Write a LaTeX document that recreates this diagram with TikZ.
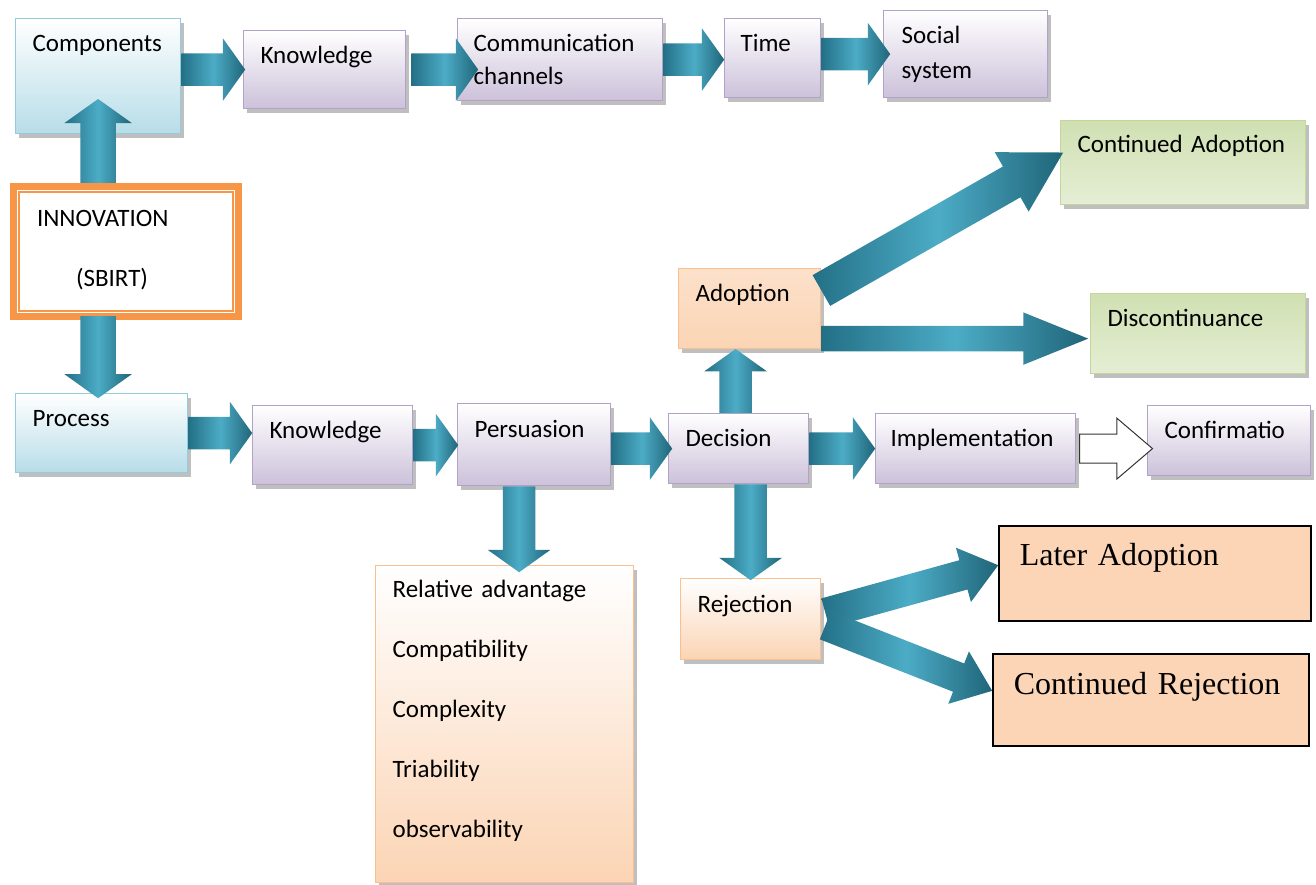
\documentclass[tikz,border=0pt]{standalone}
\usepackage{fontspec}
\setmainfont{Carlito}
\newfontfamily\timesfont{Liberation Serif}
\usepackage{tikz}
\usetikzlibrary{calc,positioning,shapes.arrows,shadows}
\hyphenpenalty=10000
\definecolor{flowdark}{RGB}{35,112,134}
\definecolor{flowlight}{RGB}{76,172,198}
\definecolor{bluebot}{RGB}{183,221,232}
\definecolor{blueline}{RGB}{147,205,221}
\definecolor{purpbot}{RGB}{204,193,218}
\definecolor{purpline}{RGB}{179,162,199}
\definecolor{peachbot}{RGB}{251,212,180}
\definecolor{peachline}{RGB}{250,192,144}
\definecolor{greenbot}{RGB}{208,224,178}
\definecolor{greenline}{RGB}{195,214,155}
\definecolor{innovorange}{RGB}{247,150,70}
\definecolor{laterfill}{RGB}{251,213,181}
\newcommand{\flowarrow}[3][flow]{%
  \path let \p1=($(#3)-(#2)$), \n1={atan2(\y1,\x1)}, \n2={veclen(\x1,\y1)} in
    node[#1, minimum height=\n2, rotate=\n1] at (#2) {};}
\tikzset{
  box/.style={rectangle, anchor=north west, align=left, inner xsep=17pt, inner ysep=0pt,
    text height=33pt, font=\fontsize{25}{33}\selectfont, line width=1.2pt,
    drop shadow={shadow xshift=3pt, shadow yshift=-4pt, opacity=0.25, fill=black}},
  bluebox/.style={box, draw=blueline, top color=white, bottom color=bluebot},
  purpbox/.style={box, draw=purpline, top color=white, bottom color=purpbot},
  peachbox/.style={box, draw=peachline, top color=white, bottom color=peachbot},
  greenbox/.style={box, draw=greenline, top color=greenbot, bottom color=greenbot!55!white},
  plainbox/.style={rectangle, anchor=north west, align=left, draw=black, line width=1.5pt,
    fill=laterfill, inner xsep=21pt, inner ysep=0pt, text height=40pt,
    font=\timesfont\fontsize{32}{38}\selectfont},
  arrowbase/.style={single arrow, anchor=tail, inner xsep=0pt, inner ysep=16pt,
    single arrow head extend=15pt, single arrow tip angle=109},
  flow/.style={arrowbase, left color=flowdark, right color=flowdark!90!black, middle color=flowlight},
  hollow/.style={arrowbase, fill=white, draw=black!80, line width=1pt},
}
\begin{document}
\begin{tikzpicture}[x=1pt,y=-1pt]
\useasboundingbox (0,0) rectangle (1316,884);
% components row
\node[bluebox, text width=131pt, text depth=82pt] (comp) at (15,18) {Components};
\node[purpbox, text width=128pt, text depth=45pt] (know1) at (243,30) {Knowledge};
\node[purpbox, text width=173pt, inner xsep=16pt, text depth=49pt] (comm) at (457,18) {Communication\\channels};
\node[purpbox, text width=64pt, inner xsep=16pt, text depth=46pt] (time) at (724,18) {Time};
\node[purpbox, text width=128pt, inner xsep=18pt, text depth=54pt, font=\fontsize{25}{35}\selectfont] (social) at (883,10) {Social\\system};
% innovation
\node[rectangle, anchor=north west, draw=innovorange, line width=7pt, fill=white, align=left,
  inner xsep=23.5pt, inner ysep=0pt, text width=178pt, text height=39.5pt, text depth=90.5pt,
  font=\fontsize{25}{60}\selectfont] (innov) at (10,183) {INNOVATION\\\hspace*{39pt}(SBIRT)};
\draw[innovorange, line width=1.6pt] ([shift={(9pt,-9pt)}]innov.north west) rectangle ([shift={(-9pt,9pt)}]innov.south east);
% process row
\node[bluebox, text width=138pt, text depth=46pt] (proc) at (15,393) {Process};
\node[purpbox, text width=126pt, text depth=46pt] (know2) at (252,405) {Knowledge};
\node[purpbox, text width=119pt, text depth=48pt, text height=34pt] (pers) at (457,403) {Persuasion};
\node[purpbox, text width=106pt, inner xsep=17pt, text depth=37pt] (deci) at (668,413) {Decision};
\node[purpbox, text width=170pt, inner xsep=15pt, text depth=37pt] (impl) at (875,413) {Implementation};
\node[purpbox, text width=129pt, text depth=37pt] (conf) at (1147,405) {Confirmatio};
\node[peachbox, top color=peachbot!70!white, text width=108pt, text depth=47pt] (adop) at (678,268) {Adoption};
\node[greenbox, text width=211pt, text depth=52pt, text height=32pt] (contad) at (1060,120) {\mbox{Continued Adoption}};
\node[greenbox, text width=181pt, text depth=47pt] (disc) at (1090,293) {Discontinuance};
\node[peachbox, text width=106pt, text depth=47pt, text height=34pt] (reje) at (680,578) {Rejection};
\node[peachbox, text width=224pt, text height=32pt, text depth=285pt, font=\fontsize{25}{60}\selectfont] (attr) at (375,565)
  {Relative advantage\\Compatibility\\Complexity\\Triability\\observability};
\node[plainbox, text width=270pt, text depth=55pt] (later) at (998,525) {Later Adoption};
\node[plainbox, text width=274pt, text height=41pt, text depth=51pt] (contrej) at (992,653) {Continued Rejection};
% arrows
\coordinate (k1t) at ([xshift=5pt]know1.east);
\coordinate (k1h) at ([xshift=21pt]comm.west |- know1.east);
\coordinate (tsh) at ([xshift=7pt]social.west);
\coordinate (ust) at (comp.south |- innov.north);
\coordinate (ush) at ([yshift=35pt]comp.south);
\coordinate (dst) at ([yshift=4pt]innov.south -| comp.south);
\coordinate (dsh) at ([yshift=-5pt]proc.north -| comp.south);
\coordinate (pat) at ([xshift=-15pt]pers.south);
\coordinate (pah) at ([yshift=-7pt]pat |- attr.north);
\coordinate (aot) at ([yshift=18pt]adop.east);
\coordinate (aoh) at ([shift={(3pt,10pt)}]contad.west);
\coordinate (adt) at ([yshift=-30pt]adop.east);
\coordinate (adh) at ([xshift=-2pt]disc.west |- adt);
\coordinate (rlt) at ([shift={(4pt,6pt)}]reje.east);
\coordinate (rlh) at ([yshift=8pt]later.west);
\coordinate (rct) at ([shift={(4pt,-6pt)}]reje.east);
\coordinate (rch) at ([yshift=9pt]contrej.west);
\flowarrow{comp.east |- know1.west}{[xshift=2pt]know1.west}
\flowarrow{k1t}{k1h}
\flowarrow{comm.east}{time.west |- comm.east}
\flowarrow{time.east |- social.west}{tsh}
\flowarrow[flow, inner ysep=17.5pt, single arrow head extend=16pt]{ust}{ush}
\flowarrow[flow, inner ysep=17.5pt, single arrow head extend=16pt]{dst}{dsh}
\flowarrow{proc.east}{know2.west |- proc.east}
\flowarrow{know2.east}{[xshift=1pt]pers.west |- know2.east}
\flowarrow{pers.east |- deci.west}{[xshift=4pt]deci.west}
\flowarrow{deci.east}{impl.west}
\flowarrow[hollow, inner ysep=14pt, single arrow head extend=16pt, single arrow tip angle=81]{[xshift=3pt]impl.east}{[xshift=5pt]conf.west |- impl.east}
\flowarrow{pat}{pah}
\flowarrow{[xshift=-3pt]deci.north}{[xshift=-3pt]deci.north |- adop.south}
\flowarrow{reje.north |- deci.south}{[yshift=-2pt]reje.north}
\flowarrow[flow, inner ysep=17.5pt, single arrow head extend=16.5pt, single arrow tip angle=60]{aot}{aoh}
\flowarrow[flow, inner ysep=12.5pt, single arrow head extend=13.5pt, single arrow tip angle=44]{adt}{adh}
\flowarrow[flow, inner ysep=15pt, single arrow head extend=13pt, single arrow tip angle=76]{rlt}{rlh}
\flowarrow[flow, inner ysep=15pt, single arrow head extend=13pt, single arrow tip angle=76]{rct}{rch}
\end{tikzpicture}
\end{document}
